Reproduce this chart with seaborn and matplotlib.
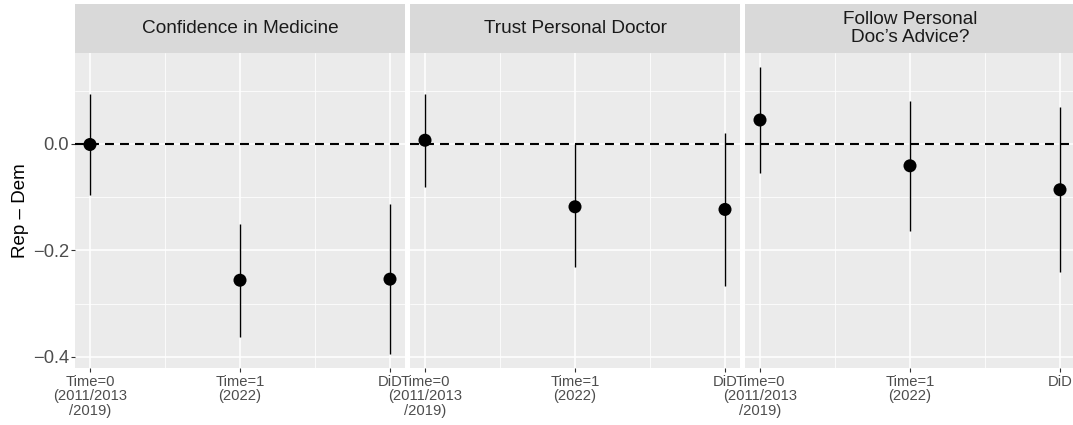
import numpy as np
import pandas as pd
import matplotlib
matplotlib.use("Agg")
import matplotlib.pyplot as plt
import seaborn as sns

# Panel titles and period labels
outcomes = ["Confidence in Medicine", "Trust Personal Doctor", "Follow Personal\nDoc\u2019s Advice?"]
periods = ["Time=0\n(2011/2013\n/2019)", "Time=1\n(2022)", "DiD"]

# Rep - Dem estimates with 95% intervals
est_conf = [-0.001, -0.256, -0.254]
lo_conf = [-0.095, -0.363, -0.394]
hi_conf = [0.093, -0.150, -0.112]

est_trust = [0.007, -0.118, -0.123]
lo_trust = [-0.080, -0.232, -0.267]
hi_trust = [0.093, 0.000, 0.021]

est_follow = [0.045, -0.041, -0.086]
lo_follow = [-0.054, -0.163, -0.241]
hi_follow = [0.144, 0.080, 0.069]

rows = []
for name, est, lo, hi in zip(outcomes,
                             [est_conf, est_trust, est_follow],
                             [lo_conf, lo_trust, lo_follow],
                             [hi_conf, hi_trust, hi_follow]):
    for p, e, l, h in zip(periods, est, lo, hi):
        rows.append({"outcome": name, "period": p, "est": e, "lo": l, "hi": h})
df = pd.DataFrame(rows)
df["pos"] = df["period"].map({p: i for i, p in enumerate(periods)})

sns.set_theme(style="darkgrid", rc={
    "axes.facecolor": "#EBEBEB",
    "grid.color": "white",
    "axes.edgecolor": "none",
})
plt.rcParams["font.family"] = ["Liberation Sans", "DejaVu Sans"]

W, H = 1073, 425
fig = plt.figure(figsize=(W / 100, H / 100), dpi=100)
fig.patch.set_facecolor("white")

panel_left = [75, 410, 745]
panel_w = 330
panel_top, panel_bot = 53, 368
strip_top = 4

ymin = df["lo"].min()
ymax = df["hi"].max()
pad = 0.05 * (ymax - ymin)
ylim = (ymin - pad, ymax + pad)

for i, name in enumerate(outcomes):
    x0 = panel_left[i]
    ax = fig.add_axes([x0 / W, (H - panel_bot) / H, panel_w / W, (panel_bot - panel_top) / H])
    sub = df[df["outcome"] == name]

    ax.set_xlim(-0.1, 2.1)
    ax.set_ylim(*ylim)
    ax.set_xticks([0, 1, 2])
    ax.set_xticks([0.5, 1.5], minor=True)
    ax.set_yticks([-0.4, -0.2, 0.0])
    ax.set_yticks([-0.3, -0.1, 0.1], minor=True)
    ax.grid(True, which="major", color="white", linewidth=1.1)
    ax.grid(True, which="minor", color="white", linewidth=0.55)
    ax.set_axisbelow(True)
    for s in ax.spines.values():
        s.set_visible(False)

    ax.axhline(0, color="black", linewidth=1.5, dashes=(4.3, 2.9), zorder=2)
    ax.vlines(sub["pos"], sub["lo"], sub["hi"], color="black", linewidth=1.0, zorder=3)
    sns.scatterplot(data=sub, x="pos", y="est", ax=ax, color="black", s=88,
                    edgecolor="none", zorder=4, legend=False)

    ax.set_xlabel("")
    ax.set_ylabel("")
    ax.set_xticklabels(periods, fontsize=10.6, color="#4D4D4D", linespacing=1.05)
    ax.tick_params(axis="x", which="major", length=3, width=0.8, color="#333333",
                   pad=2, bottom=True)
    ax.tick_params(axis="x", which="minor", length=0)
    ax.tick_params(axis="y", which="minor", length=0)
    if i == 0:
        ax.set_yticklabels(["\u22120.4", "\u22120.2", "0.0"], fontsize=13.2, color="#4D4D4D")
        ax.tick_params(axis="y", which="major", length=3, width=0.8, color="#333333",
                       pad=1.5, left=True)
        ax.set_ylabel("Rep \u2013 Dem", fontsize=13.5, color="black", labelpad=2.5)
    else:
        ax.tick_params(axis="y", which="major", length=0, labelleft=False)

    # facet strip
    sax = fig.add_axes([x0 / W, (H - panel_top) / H, panel_w / W, (panel_top - strip_top) / H])
    sax.set_facecolor("#D9D9D9")
    sax.set_xticks([])
    sax.set_yticks([])
    sax.grid(False)
    for s in sax.spines.values():
        s.set_visible(False)
    sax.text(0.5, 0.5, name, ha="center", va="center", fontsize=13.7,
             color="#1A1A1A", linespacing=1.0, transform=sax.transAxes)

fig.savefig("out.png", dpi=100, facecolor="white")
